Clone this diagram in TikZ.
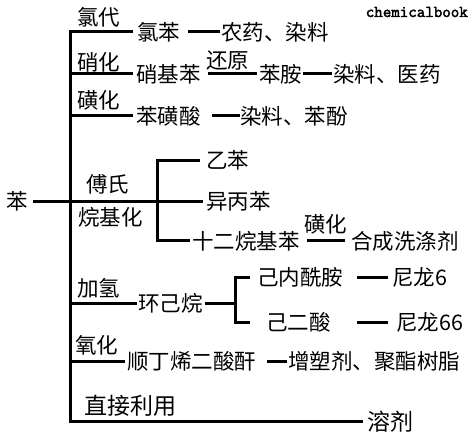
\documentclass[tikz,border=0pt]{standalone}
\usepackage{fontspec}
\newfontfamily\cjk{Noto Sans CJK SC}
\newfontfamily\wmfont[FakeBold=2.5]{Latin Modern Mono}
\begin{document}
\begin{tikzpicture}[x=1pt,y=-1pt,
  t/.style={anchor=west,inner sep=0pt,font=\cjk\fontsize{21.5}{21.5}\selectfont},
  tb/.style={anchor=west,inner sep=0pt,font=\cjk\fontsize{23}{23}\selectfont},
  ln/.style={line width=3pt,line join=miter}]
\useasboundingbox (0,0) rectangle (471,446);
\fill[white] (0,0) rectangle (471,446);
% nodes
\node[t] (ben) at (6,201.5) {苯};
\node[t] (l1) at (77,17) {氯代};
\node[t] (n1) at (137,32) {氯苯};
\node[t] (u1) at (221,32) {农药、染料};
\node[t] (l2) at (77,62) {硝化};
\node[t] (n2) at (136,74) {硝基苯};
\node[t] (r2) at (206,61) {还原};
\node[t] (n2b) at (259,74) {苯胺};
\node[t] (u2) at (333,74) {染料、医药};
\node[t] (l3) at (77,100) {磺化};
\node[t] (n3) at (136,116) {苯磺酸};
\node[t] (u3) at (240,116) {染料、苯酚};
\node[t] (l4a) at (86,184) {傅氏};
\node[t] (l4b) at (78,217) {烷基化};
\node[t] (a1) at (206,160.5) {乙苯};
\node[t] (a2) at (206,201.5) {异丙苯};
\node[t] (a3) at (192,241) {十二烷基苯};
\node[t] (s4) at (304,224) {磺化};
\node[t] (a4) at (351,241) {合成洗涤剂};
\node[t] (l5) at (77,288) {加氢};
\node[t] (n5) at (138,303.5) {环己烷};
\node[t] (b1) at (257,277.5) {己内酰胺};
\node[t] (c1) at (392,277.5) {尼龙6};
\node[t] (b2) at (266,322.5) {己二酸};
\node[t] (c2) at (396,322.5) {尼龙66};
\node[t] (l6) at (75,345) {氧化};
\node[t] (n6) at (127,361.5) {顺丁烯二酸酐};
\node[t] (u6) at (288,361.5) {增塑剂、聚酯树脂};
\node[tb] (l7) at (84,406) {直接利用};
\node[tb] (u7) at (367,421.5) {溶剂};
\node[anchor=east,inner sep=0pt,font=\wmfont\fontsize{16.5}{16.5}\selectfont] (wm) at (468,12) {chemicalbook};
% trunk coordinates
\coordinate (j1) at (70,32);
\coordinate (j2) at (70,74);
\coordinate (j3) at (70,116);
\coordinate (j5) at (70,303.5);
\coordinate (j6) at (70,361.5);
\coordinate (j7) at (70,421.5);
\coordinate (k4) at (157,201.5);
\coordinate (k5) at (235,303.5);
% trunk
\draw[ln,shorten <=4pt,shorten >=4pt] (j1 -| n1.west) -- (j1) -- (j7) -- (j7 -| u7.west);
% branch 1
\draw[ln,shorten <=8pt,shorten >=1pt] (n1.east) -- (n1.east -| u1.west);
% branch 2
\draw[ln,shorten >=3pt] (j2) -- (j2 -| n2.west);
\draw[ln,shorten <=7.5pt,shorten >=2pt] (n2.east) -- (n2.east -| n2b.west);
\draw[ln,shorten <=1pt,shorten >=1pt] (n2b.east) -- (n2b.east -| u2.west);
% branch 3
\draw[ln,shorten >=3pt] (j3) -- (j3 -| n3.west);
\draw[ln,shorten <=11.5pt,shorten >=0.5pt] (n3.east) -- (n3.east -| u3.west);
% branch 4
\draw[ln,shorten <=5.5pt,shorten >=3pt] (ben.east) -- (ben.east -| a2.west);
\draw[ln,shorten <=6pt,shorten >=2pt] (a1.west) -- (a1.west -| k4) -- (a3.west -| k4) -- (a3.west);
\draw[ln,shorten <=7.5pt,shorten >=6pt] (a3.east) -- (a3.east -| a4.west);
% branch 5
\draw[ln,shorten >=1pt] (j5) -- (j5 -| n5.west);
\draw[ln,shorten <=2.5pt] (n5.east) -- (k5);
\draw[ln,shorten <=7pt,shorten >=16pt] (b1.west) -- (b1.west -| k5) -- (b2.west -| k5) -- (b2.west);
\draw[ln,shorten <=14pt,shorten >=4pt] (b1.east) -- (b1.east -| c1.west);
\draw[ln,shorten <=26.5pt,shorten >=8pt] (b2.east) -- (b2.east -| c2.west);
% branch 6
\draw[ln,shorten >=2pt] (j6) -- (j6 -| n6.west);
\draw[ln,shorten <=11pt,shorten >=1pt] (n6.east) -- (n6.east -| u6.west);
\end{tikzpicture}
\end{document}
